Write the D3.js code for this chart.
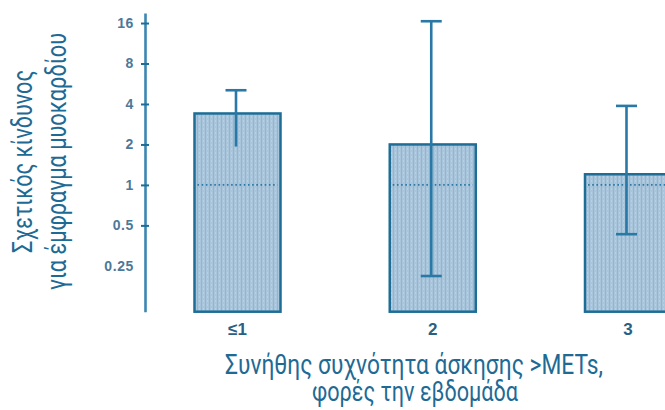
<!DOCTYPE html>
<html><head><meta charset="utf-8">
<script src="https://cdn.jsdelivr.net/npm/d3@7"></script>
<style>html,body{margin:0;padding:0;background:#fff;overflow:hidden}</style>
</head><body><svg id="c" width="665" height="410"></svg>
<script>
// ---- data ----
const categories = ["≤1", "2", "3"];
const relativeRisk = [3.4, 2.0, 1.2];
const ciLower = [1.93, 0.21, 0.43];
const ciUpper = [5.06, 16.5, 3.87];
const lowerCapShown = [false, true, true];
const tickValues = [16, 8, 4, 2, 1, 0.5, 0.25];
const tickMarked = [16, 8, 4, 2, 1, 0.5];
const referenceValue = 1;
const yDomain = [0.114, 19.0];
const yTitleLines = ["Σχετικός κίνδυνος", "για έμφραγμα μυοκαρδίου"];
const xTitleLines = ["Συνήθης συχνότητα άσκησης >METs,", "φορές την εβδομάδα"];

// ---- layout / style ----
const svg = d3.select("#c");
svg.append("rect").attr("width", 665).attr("height", 410).attr("fill", "#fff");
const axisX = 145, yBottom = 311.7, yTop = 13;
const barW = 86, capHalf = 10.5;
const barStroke = "#1d6d96", errColor = "#2a78a5", axisColor = "#3b86b2";
const titleColor = "#1e6a94", tickColor = "#4e7898", catColor = "#2a5f83";
const font = "Roboto, 'Liberation Sans', Arial, sans-serif";

const y = d3.scaleLog().base(2).domain(yDomain).range([yBottom, yTop]);
const x = d3.scalePoint().domain(categories).range([237.5, 628]);

// hatch pattern
const defs = svg.append("defs");
const pat = defs.append("pattern").attr("id", "hatch").attr("patternUnits", "userSpaceOnUse")
  .attr("width", 4).attr("height", 4);
pat.append("rect").attr("width", 4).attr("height", 4).attr("fill", "#a8c5db");
pat.append("rect").attr("x", 1).attr("width", 1).attr("height", 4).attr("fill", "#93b5cf");
pat.append("rect").attr("x", 3).attr("y", 0).attr("width", 1).attr("height", 2).attr("fill", "#b6cfe1");

const rows = categories.map((c, i) => ({
  c, v: relativeRisk[i], lo: ciLower[i], hi: ciUpper[i], lowCap: lowerCapShown[i]
}));

// bars
svg.append("g").selectAll("rect").data(rows).join("rect")
  .attr("x", d => x(d.c) - barW / 2)
  .attr("y", d => y(d.v))
  .attr("width", barW)
  .attr("height", d => y(yDomain[0]) - y(d.v))
  .attr("fill", "url(#hatch)")
  .attr("stroke", barStroke).attr("stroke-width", 2.5);

// reference dotted line at 1
svg.append("g").selectAll("line").data(rows).join("line")
  .attr("x1", d => x(d.c) - barW / 2 + 3)
  .attr("x2", d => x(d.c) + barW / 2 - 3)
  .attr("y1", y(referenceValue)).attr("y2", y(referenceValue))
  .attr("stroke", errColor).attr("stroke-width", 1.8)
  .attr("stroke-dasharray", "1.6,2.6");

// error bars
const eg = svg.append("g").attr("stroke", errColor).attr("stroke-width", 2.6);
eg.selectAll(".v").data(rows).join("line").attr("class", "v")
  .attr("x1", d => x(d.c) - 1.5).attr("x2", d => x(d.c) - 1.5)
  .attr("y1", d => y(d.lo)).attr("y2", d => y(d.hi));
eg.selectAll(".t").data(rows).join("line").attr("class", "t")
  .attr("x1", d => x(d.c) - 1.5 - capHalf).attr("x2", d => x(d.c) - 1.5 + capHalf)
  .attr("y1", d => y(d.hi)).attr("y2", d => y(d.hi));
eg.selectAll(".b").data(rows.filter(d => d.lowCap)).join("line").attr("class", "b")
  .attr("x1", d => x(d.c) - 1.5 - capHalf).attr("x2", d => x(d.c) - 1.5 + capHalf)
  .attr("y1", d => y(d.lo)).attr("y2", d => y(d.lo));

// y axis
const yAxis = d3.axisLeft(y).tickValues(tickValues).tickFormat(d => String(d))
  .tickSize(4).tickSizeOuter(0).tickPadding(7);
const ag = svg.append("g").attr("transform", `translate(${axisX},0)`).call(yAxis);
ag.select(".domain").attr("stroke", axisColor).attr("stroke-width", 2.6);
ag.selectAll(".tick line")
  .attr("x1", -4).attr("x2", 4)
  .attr("stroke", barStroke).attr("stroke-width", 2)
  .attr("display", d => tickMarked.includes(d) ? null : "none");
ag.selectAll(".tick text")
  .attr("fill", tickColor).attr("font-family", "'Liberation Sans', Arial, sans-serif")
  .attr("font-weight", "bold").attr("font-size", 14).attr("letter-spacing", 0.6);

// category labels
svg.append("g").selectAll("text").data(rows).join("text")
  .attr("x", d => x(d.c)).attr("y", 335)
  .attr("text-anchor", "middle")
  .attr("font-family", "'Liberation Sans', Arial, sans-serif")
  .attr("font-weight", "bold").attr("font-size", 17)
  .attr("fill", catColor)
  .text(d => d.c);

// y title
const yTitlePos = [{x: 32, len: 183}, {x: 65.5, len: 257}];
svg.append("g").selectAll("text").data(yTitleLines).join("text")
  .attr("transform", (d, i) => `translate(${yTitlePos[i].x},161.5) rotate(-90)`)
  .attr("text-anchor", "middle")
  .attr("font-family", font).attr("font-size", 28)
  .attr("fill", titleColor)
  .attr("textLength", (d, i) => yTitlePos[i].len)
  .attr("lengthAdjust", "spacingAndGlyphs")
  .text(d => d);

// x title
const xTitlePos = [{x: 414, y: 374, len: 378}, {x: 415, y: 401, len: 206}];
svg.append("g").selectAll("text").data(xTitleLines).join("text")
  .attr("x", (d, i) => xTitlePos[i].x).attr("y", (d, i) => xTitlePos[i].y)
  .attr("text-anchor", "middle")
  .attr("font-family", font).attr("font-size", 28)
  .attr("fill", titleColor)
  .attr("textLength", (d, i) => xTitlePos[i].len)
  .attr("lengthAdjust", "spacingAndGlyphs")
  .text(d => d);
</script>
</body></html>
